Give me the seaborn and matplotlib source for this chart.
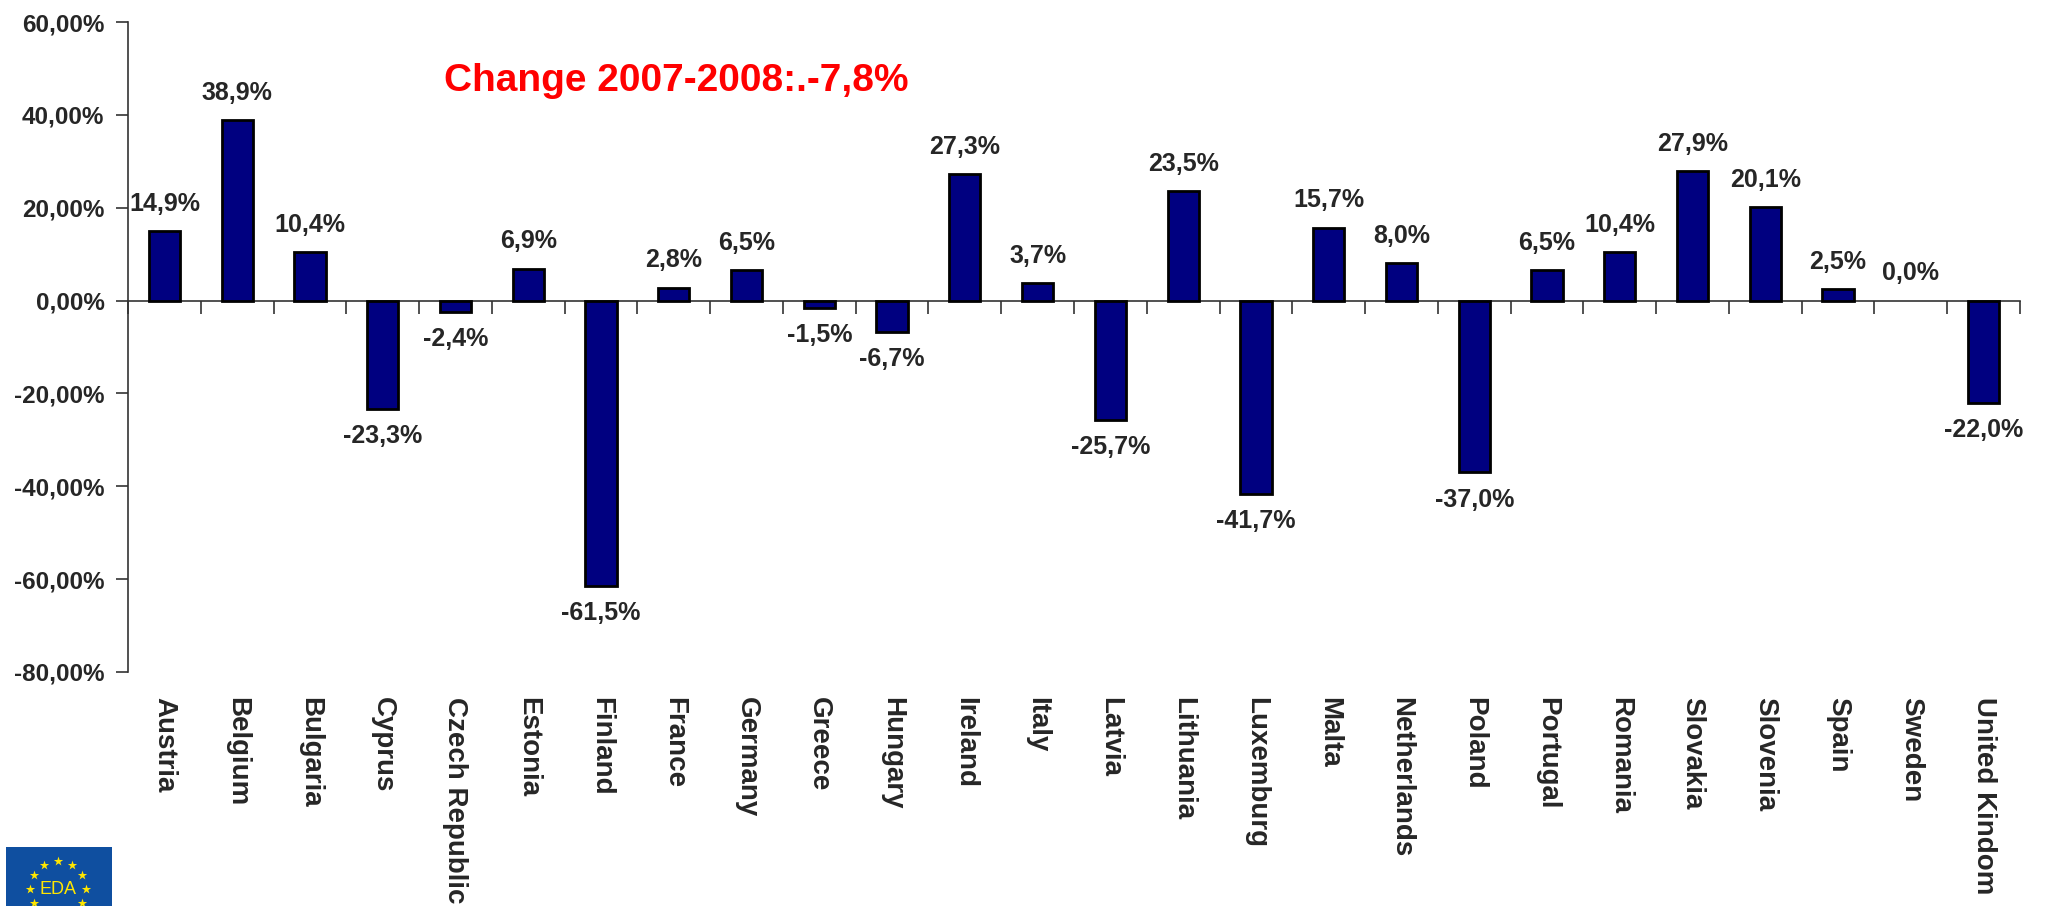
import matplotlib.pyplot as plt
import numpy as np
import pandas as pd
import seaborn as sns

# Data (percent change per country)
countries = ['Austria', 'Belgium', 'Bulgaria', 'Cyprus', 'Czech Republic', 'Estonia',
             'Finland', 'France', 'Germany', 'Greece', 'Hungary', 'Ireland', 'Italy',
             'Latvia', 'Lithuania', 'Luxemburg', 'Malta', 'Netherlands', 'Poland',
             'Portugal', 'Romania', 'Slovakia', 'Slovenia', 'Spain', 'Sweden',
             'United Kindom']
changes = [14.9, 38.9, 10.4, -23.3, -2.4, 6.9, -61.5, 2.8, 6.5, -1.5, -6.7, 27.3, 3.7,
           -25.7, 23.5, -41.7, 15.7, 8.0, -37.0, 6.5, 10.4, 27.9, 20.1, 2.5, 0.0, -22.0]
yticks = [60, 40, 20, 0, -20, -40, -60, -80]
note = 'Change 2007-2008:.-7,8%'

df = pd.DataFrame({'country': countries, 'change': changes})

sns.set_style('white')
plt.rcParams['font.family'] = ['Liberation Sans', 'DejaVu Sans']
plt.rcParams['font.weight'] = 'bold'

fig = plt.figure(figsize=(20.46, 9.06), dpi=100)
W, H = 2046, 906
ax = fig.add_axes([128 / W, (H - 672) / H, (2020 - 128) / W, (672 - 22) / H])

sns.barplot(data=df, x='country', y='change', color='#000080', saturation=1,
            edgecolor='black', linewidth=2, width=0.43, ax=ax, zorder=3)

# a zero bar shows nothing in the original
for p in ax.patches:
    if p.get_height() == 0:
        p.set_linewidth(0)

ax.set_xlim(-0.5, len(countries) - 0.5)
ax.set_ylim(-80, 60)
ax.set_xlabel('')
ax.set_ylabel('')

# y axis
ax.set_yticks(yticks)
ax.set_yticklabels([f'{v},00%' for v in yticks], fontsize=17.5, fontweight='bold')
ax.tick_params(axis='y', direction='out', length=9, width=1.2, pad=8, color='#333333', left=True)

# x axis sits on the zero line, ticks between categories
for side in ['top', 'right']:
    ax.spines[side].set_visible(False)
ax.spines['bottom'].set_position(('data', 0))
ax.spines['left'].set_color('#333333')
ax.spines['bottom'].set_color('#333333')
ax.spines['left'].set_linewidth(1.2)
ax.spines['bottom'].set_linewidth(1.2)
ax.set_xticks(np.arange(-0.5, len(countries), 1.0))
ax.set_xticklabels([])
ax.tick_params(axis='x', direction='out', length=9, width=1.2, color='#333333', bottom=True)

# category names at the bottom of the plot
for i, name in enumerate(countries):
    ax.annotate(name, xy=(i, 0), xycoords=('data', 'axes fraction'),
                xytext=(0, -18), textcoords='offset points', rotation=270,
                ha='center', va='top', fontsize=20, fontweight='bold')

# value labels
for i, v in enumerate(changes):
    txt = f'{v:.1f}%'.replace('.', ',')
    if v >= 0:
        ax.annotate(txt, xy=(i, v), xytext=(0, 11), textcoords='offset points',
                    ha='center', va='bottom', fontsize=18, fontweight='bold')
    else:
        ax.annotate(txt, xy=(i, v), xytext=(0, -11), textcoords='offset points',
                    ha='center', va='top', fontsize=18, fontweight='bold')

fig.text(676 / W, 1 - 81 / H, note, color='red', fontsize=28, fontweight='bold',
         ha='center', va='center')

# small EDA logo bottom left
logo = fig.add_axes([6 / W, 0, 106 / W, 59 / H])
logo.set_facecolor('#0f4fa0')
logo.set_xlim(0, 106)
logo.set_ylim(59, 0)
logo.set_xticks([])
logo.set_yticks([])
for s in logo.spines.values():
    s.set_visible(False)
ang = np.linspace(0, 2 * np.pi, 12, endpoint=False)
logo.scatter(52 + 28 * np.sin(ang), 42 - 28 * np.cos(ang), marker='*', s=50,
             color='#ffe600', linewidths=0, clip_on=True)
logo.text(52, 42, 'EDA', color='#ffe600', fontsize=13, fontweight='normal',
          ha='center', va='center')

fig.savefig('out.png', dpi=100)
